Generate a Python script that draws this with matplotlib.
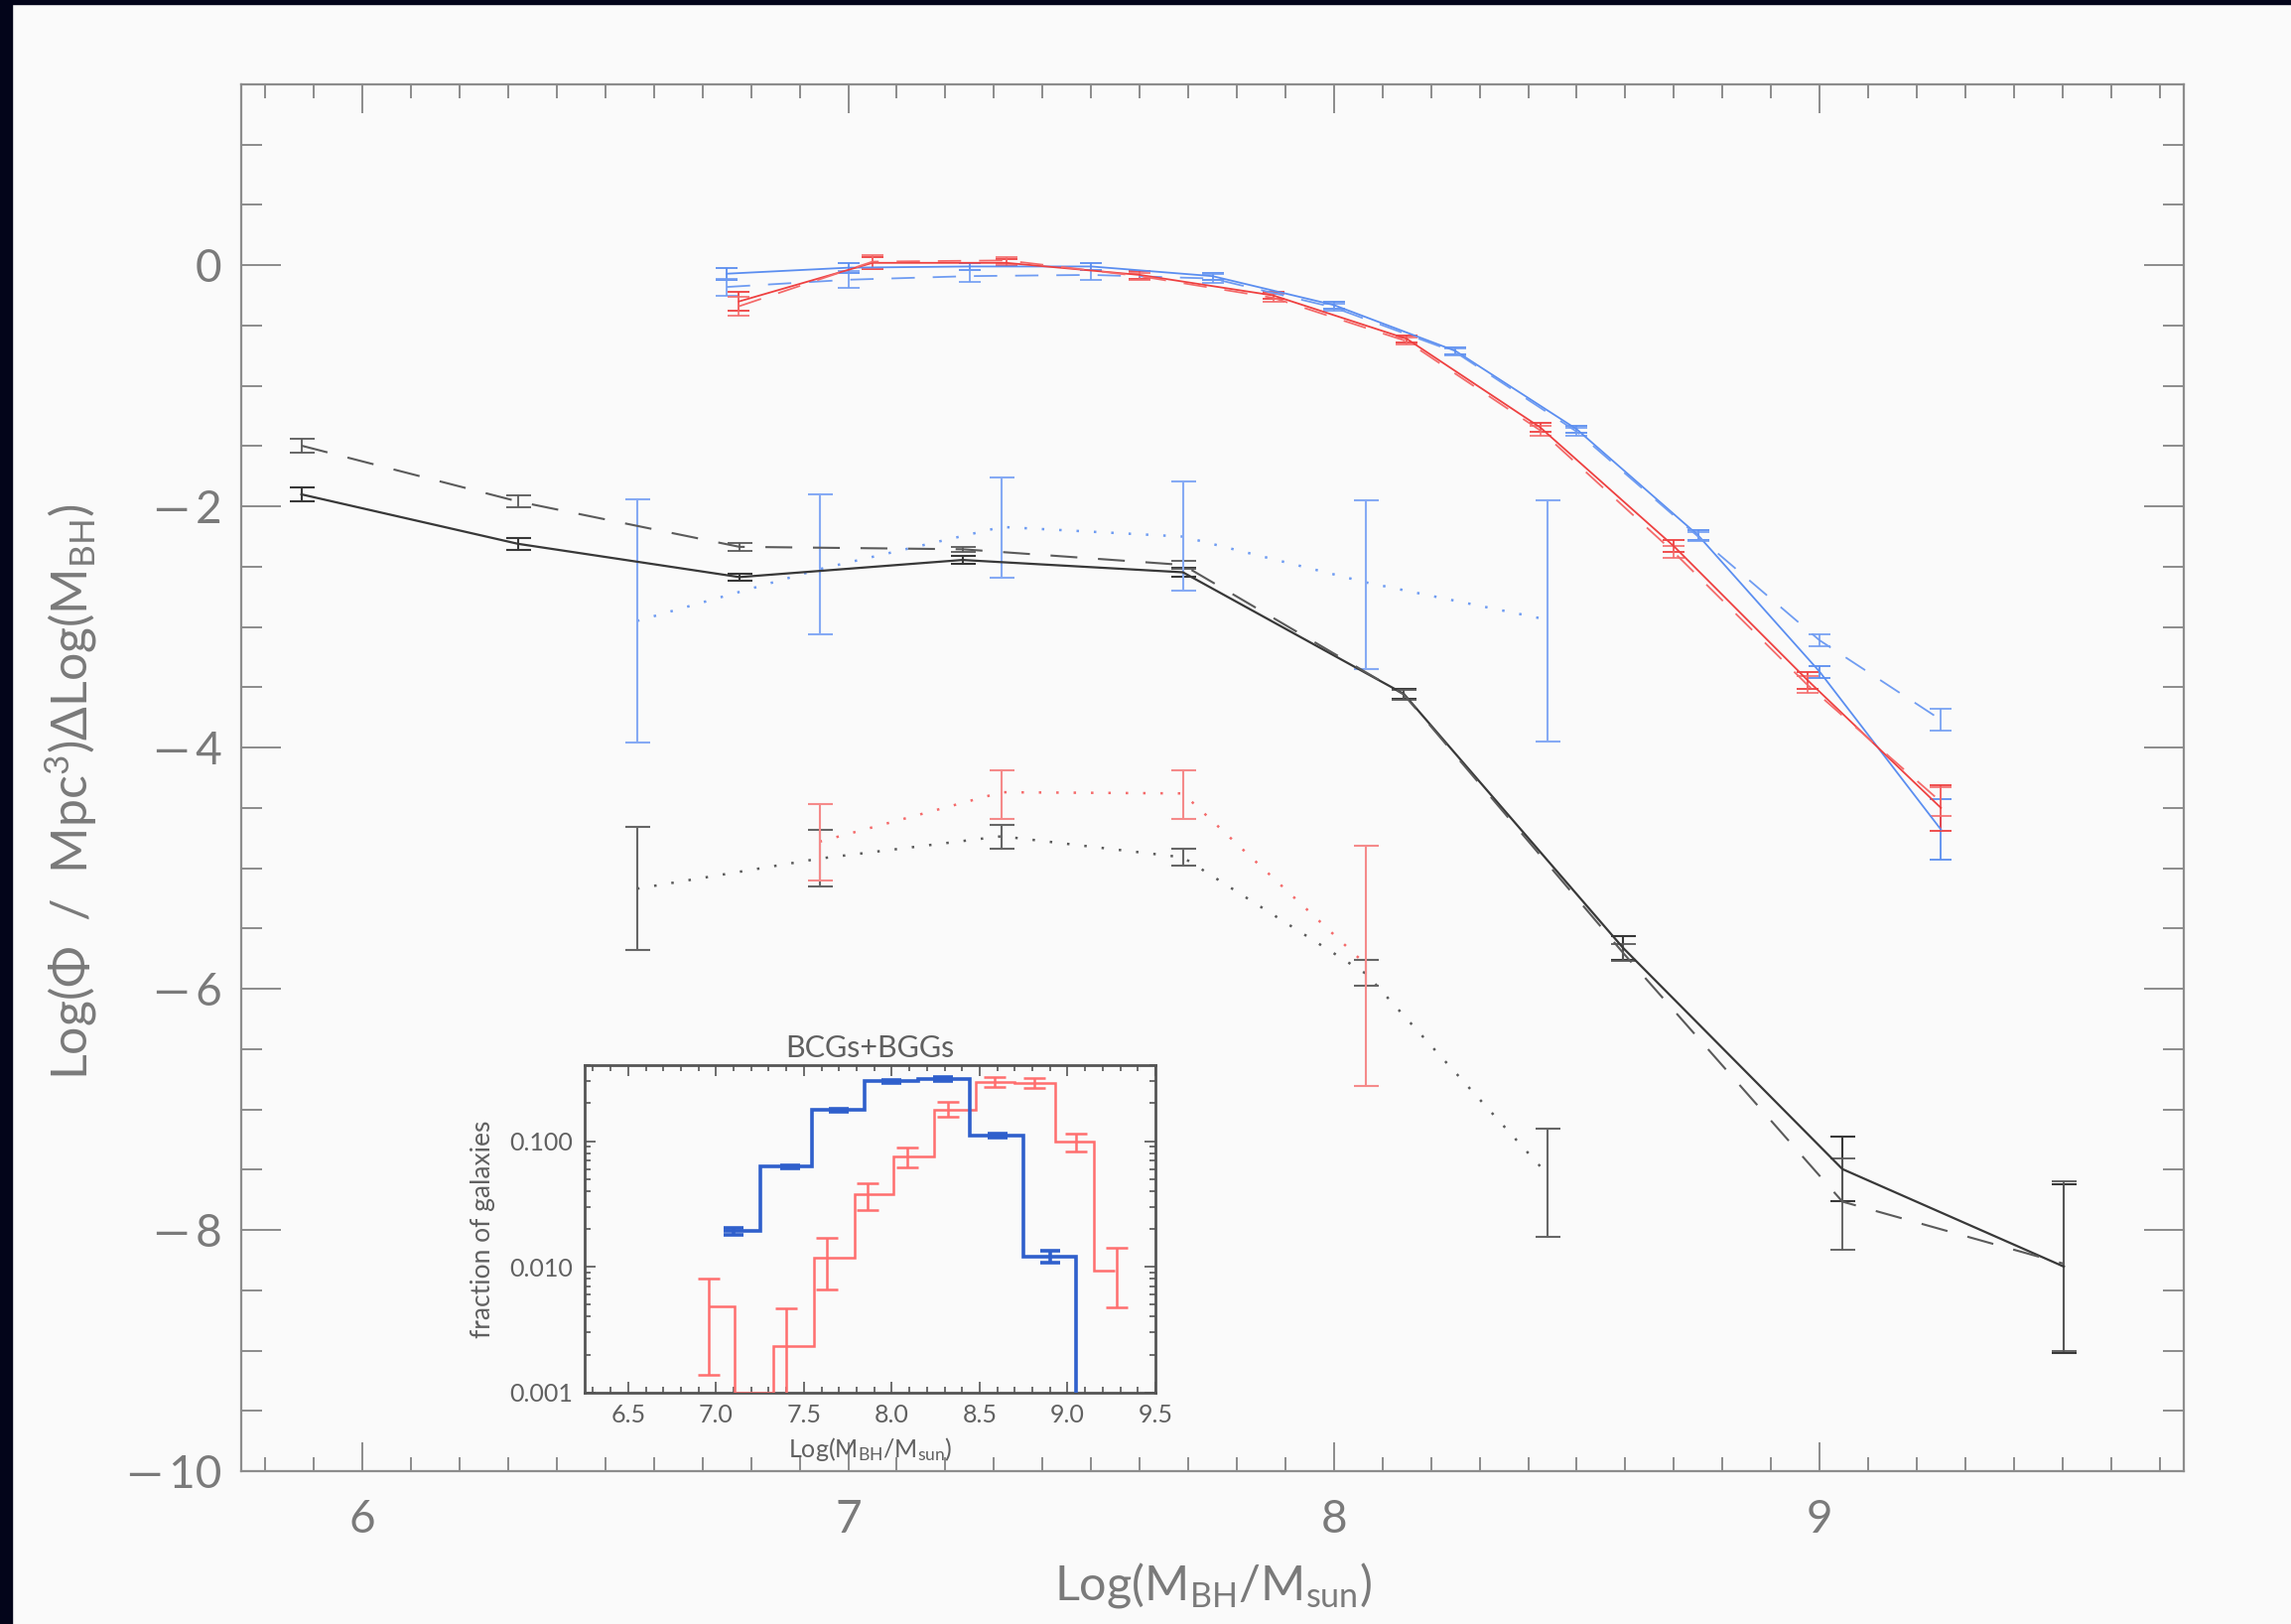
import matplotlib
matplotlib.use("Agg")
import matplotlib.pyplot as plt
import numpy as np
from matplotlib.ticker import MultipleLocator, FuncFormatter, FixedLocator, LogLocator, NullFormatter
from matplotlib.patches import Rectangle

plt.rcParams['font.family'] = ['Lato', 'DejaVu Sans']
plt.rcParams['mathtext.default'] = 'regular'

# ---------------- main panel data ----------------
x_all = [5.874, 6.320, 6.776, 7.235, 7.689, 8.144, 8.595, 9.047, 9.503]
y_all_solid = [-1.90, -2.31, -2.586, -2.444, -2.546, -3.555, -5.659, -7.495, -8.304]
lo_all_solid = [0.06, 0.05, 0.03, 0.03, 0.04, 0.04, 0.10, 0.265, 0.72]
hi_all_solid = [0.06, 0.05, 0.03, 0.03, 0.04, 0.04, 0.10, 0.27, 0.68]
y_all_dash = [-1.496, -1.959, -2.335, -2.355, -2.485, -3.56, -5.70, -7.765, -8.28]
lo_all_dash = [0.06, 0.05, 0.03, 0.02, 0.03, 0.04, 0.07, 0.40, 0.72]
hi_all_dash = [0.06, 0.05, 0.03, 0.02, 0.03, 0.04, 0.07, 0.36, 0.68]

x_sub = [6.565, 6.941, 7.316, 7.689, 8.066, 8.440]
y_blk_dot = [-5.17, -4.92, -4.735, -4.91, -5.875, -7.54]
low_blk_dot = [-5.68, -5.15, -4.84, -4.98, -5.978, -8.057]
high_blk_dot = [-4.66, -4.68, -4.64, -4.84, -5.762, -7.157]

y_blu_dot = [-2.95, -2.52, -2.17, -2.25, -2.63, -2.94]
low_blu_dot = [-3.96, -3.06, -2.59, -2.70, -3.35, -3.95]
high_blu_dot = [-1.94, -1.90, -1.76, -1.79, -1.95, -1.95]

x_red_dot = [6.941, 7.316, 7.689, 8.066]
y_red_dot = [-4.78, -4.37, -4.38, -5.80]
low_red_dot = [-5.10, -4.59, -4.59, -6.81]
high_red_dot = [-4.465, -4.19, -4.19, -4.81]

x_blue = [6.75, 7.00, 7.25, 7.50, 7.75, 8.00, 8.25, 8.50, 8.75, 9.00, 9.25]
y_blue_solid = [-0.07, -0.02, -0.01, -0.01, -0.09, -0.33, -0.71, -1.36, -2.24, -3.37, -4.68]
e_blue_solid = [0.05, 0.04, 0.03, 0.03, 0.03, 0.03, 0.03, 0.03, 0.04, 0.05, 0.25]
y_blue_dash = [-0.18, -0.12, -0.09, -0.08, -0.11, -0.35, -0.72, -1.38, -2.25, -3.11, -3.77]
e_blue_dash = [0.07, 0.07, 0.05, 0.04, 0.04, 0.03, 0.03, 0.03, 0.04, 0.05, 0.09]

x_red = [6.775, 7.050, 7.325, 7.600, 7.875, 8.150, 8.425, 8.700, 8.975, 9.250]
y_red_solid = [-0.30, 0.02, 0.02, -0.08, -0.25, -0.61, -1.345, -2.33, -3.44, -4.50]
e_red_solid = [0.08, 0.05, 0.03, 0.03, 0.03, 0.03, 0.04, 0.05, 0.07, 0.19]
y_red_dash = [-0.34, 0.03, 0.04, -0.09, -0.27, -0.63, -1.37, -2.38, -3.48, -4.45]
e_red_dash = [0.08, 0.05, 0.03, 0.03, 0.03, 0.03, 0.04, 0.05, 0.07, 0.12]

# ---------------- inset data ----------------
blue_edges = [7.044, 7.251, 7.544, 7.843, 8.149, 8.441, 8.747, 9.047, 9.35]
blue_frac = [0.0192, 0.0627, 0.176, 0.298, 0.312, 0.111, 0.012, 1e-5]
blue_cx = [7.10, 7.42, 7.70, 8.00, 8.29, 8.60, 8.90]
blue_cy = [0.0192, 0.0627, 0.176, 0.298, 0.312, 0.111, 0.012]
blue_rel = [0.07, 0.03, 0.03, 0.03, 0.03, 0.04, 0.11]

red_edges = [6.96, 7.107, 7.327, 7.557, 7.787, 8.01, 8.24, 8.48, 8.70, 8.93, 9.15, 9.27]
red_frac = [0.0048, 0.001, 0.00234, 0.0119, 0.0375, 0.0752, 0.178, 0.296, 0.290, 0.0987, 0.0094]
red_cx = [6.96, 7.40, 7.63, 7.86, 8.09, 8.32, 8.585, 8.81, 9.046, 9.28]
red_cy = [0.0048, 0.00234, 0.0119, 0.0375, 0.0752, 0.178, 0.296, 0.290, 0.0987, 0.0094]
red_lo = [0.00138, 0.0005, 0.00656, 0.0282, 0.0616, 0.157, 0.27, 0.265, 0.0823, 0.00473]
red_hi = [0.0080, 0.0047, 0.0171, 0.0463, 0.0886, 0.205, 0.325, 0.318, 0.115, 0.01405]

# ---------------- styles ----------------
BG = '#fafafa'
AXC = '#8c8c8c'
TXT = '#7a7a7a'
BLK = '#383838'
BLK2 = '#5a5a5a'
BLU = '#5b8ef0'
BLU2 = '#6f9cf2'
RED = '#ee4040'
RED2 = '#f46a6a'
DASH = (0, (13, 10))
DOT = (0, (1.0, 6.0))

fig = plt.figure(figsize=(23.08, 16.36), dpi=100, facecolor=BG)
ax = fig.add_axes([243/2308, 1-1482/1636, (2200-243)/2308, (1482-85)/1636])
ax.set_facecolor(BG)

def eb(x, y, lo, hi, color, lw=1.3, cs=9, alpha=1.0, z=3):
    ax.errorbar(x, y, yerr=[lo, hi], fmt='none', ecolor=color, elinewidth=lw,
                capsize=cs, capthick=lw, alpha=alpha, zorder=z)

# black all
ax.plot(x_all, y_all_solid, color=BLK, lw=1.6, zorder=4)
eb(x_all, y_all_solid, lo_all_solid, hi_all_solid, BLK, lw=1.5)
ax.plot(x_all, y_all_dash, color=BLK2, lw=1.5, ls=DASH, zorder=4)
eb(x_all, y_all_dash, lo_all_dash, hi_all_dash, BLK2, lw=1.3)

# dotted subsamples
yb = np.array(y_blk_dot)
ax.plot(x_sub, yb, color=BLK2, lw=1.8, ls=DOT, zorder=3)
eb(x_sub, yb, yb-np.array(low_blk_dot), np.array(high_blk_dot)-yb, '#666666', lw=1.5)

yu = np.array(y_blu_dot)
ax.plot(x_sub, yu, color=BLU2, lw=1.8, ls=DOT, zorder=3)
eb(x_sub, yu, yu-np.array(low_blu_dot), np.array(high_blu_dot)-yu, '#86aaf4', lw=1.5)

yr = np.array(y_red_dot)
ax.plot(x_red_dot, yr, color=RED2, lw=1.8, ls=DOT, zorder=3)
eb(x_red_dot, yr, yr-np.array(low_red_dot), np.array(high_red_dot)-yr, '#f58a8a', lw=1.5)

# upper curves
ax.plot(x_blue, y_blue_solid, color=BLU, lw=1.3, zorder=4)
eb(x_blue, y_blue_solid, e_blue_solid, e_blue_solid, BLU, lw=1.3, cs=8)
ax.plot(x_blue, y_blue_dash, color=BLU2, lw=1.3, ls=DASH, zorder=4)
eb(x_blue, y_blue_dash, e_blue_dash, e_blue_dash, BLU2, lw=1.2, cs=8)
ax.plot(x_red, y_red_solid, color=RED, lw=1.3, zorder=5)
eb(x_red, y_red_solid, e_red_solid, e_red_solid, RED, lw=1.3, cs=8)
ax.plot(x_red, y_red_dash, color=RED2, lw=1.3, ls=DASH, zorder=5)
eb(x_red, y_red_dash, e_red_dash, e_red_dash, RED2, lw=1.2, cs=8)

ax.set_xlim(5.75, 9.75)
ax.set_ylim(-10, 1.5)
ax.xaxis.set_major_locator(MultipleLocator(1))
ax.xaxis.set_minor_locator(MultipleLocator(0.1))
ax.yaxis.set_major_locator(MultipleLocator(2))
ax.yaxis.set_minor_locator(MultipleLocator(0.5))
ax.yaxis.set_major_formatter(FuncFormatter(lambda v, p: ('\u2014\u2009%d' % round(-v)) if v < 0 else '%d' % round(v)))
ax.xaxis.set_major_formatter(FuncFormatter(lambda v, p: '%d' % round(v)))
ax.tick_params(which='both', direction='in', top=True, right=True, color=AXC, width=1.4,
               labelcolor=TXT, labelsize=33)
ax.tick_params(axis='x', which='major', length=21, pad=20)
ax.tick_params(axis='x', which='minor', length=10)
ax.tick_params(axis='y', which='major', length=29, pad=14)
ax.tick_params(axis='y', which='minor', length=15)
for s in ax.spines.values():
    s.set_color(AXC)
    s.set_linewidth(1.6)

ax.set_xlabel('Log(M$_{BH}$/M$_{sun}$)', fontsize=35, color=TXT)
ax.xaxis.set_label_coords(0.5, -0.082)
ax.xaxis.label.set_va('center')
ax.set_ylabel('Log(Φ  /  Mpc$^{3}$)ΔLog(M$_{BH}$)', fontsize=36, color=TXT)
ax.yaxis.set_label_coords(-0.0874, 0.49)
ax.yaxis.label.set_va('center')

# ---------------- inset ----------------
ai = fig.add_axes([588.6/2308, 1-1402.7/1636, (1164-588.6)/2308, (1402.7-1073.3)/1636])
ai.set_facecolor(BG)
ai.set_yscale('log')
ai.stairs(red_frac, red_edges, baseline=None, color='#ff6e6e', lw=1.8, zorder=3)
rcy = np.array(red_cy)
ai.errorbar(red_cx, rcy, yerr=[rcy-np.array(red_lo), np.array(red_hi)-rcy], fmt='none',
            ecolor='#ff6e6e', elinewidth=1.8, capsize=8, capthick=1.8, zorder=3)
ai.stairs(blue_frac, blue_edges, baseline=None, color='#2f5fcc', lw=2.6, zorder=4)
bcy = np.array(blue_cy)
brel = np.array(blue_rel)
ai.errorbar(blue_cx, bcy, yerr=[bcy*brel, bcy*brel], fmt='none', ecolor='#2f5fcc',
            elinewidth=2.6, capsize=7, capthick=2.6, zorder=4)
ai.set_xlim(6.25, 9.5)
ai.set_ylim(0.001, 0.4)
ai.xaxis.set_major_locator(MultipleLocator(0.5))
ai.xaxis.set_minor_locator(MultipleLocator(0.1))
ai.xaxis.set_major_formatter(FuncFormatter(lambda v, p: '%.1f' % v))
ai.yaxis.set_major_locator(FixedLocator([0.001, 0.01, 0.1]))
ai.yaxis.set_major_formatter(FuncFormatter(lambda v, p: '%.3f' % v))
ai.yaxis.set_minor_locator(LogLocator(base=10, subs=np.arange(2, 10)))
ai.yaxis.set_minor_formatter(NullFormatter())
ai.tick_params(which='both', direction='in', top=True, right=True, color='#555555',
               width=1.2, labelcolor='#606060', labelsize=18)
ai.tick_params(which='major', length=8, pad=8)
ai.tick_params(which='minor', length=4)
for s in ai.spines.values():
    s.set_color('#555555')
    s.set_linewidth(2.0)
ai.set_title('BCGs+BGGs', fontsize=22, color='#606060', pad=6)
ai.set_xlabel('Log(M$_{BH}$/M$_{sun}$)', fontsize=18, color='#606060')
ai.xaxis.set_label_coords(0.5, -0.174)
ai.xaxis.label.set_va('center')
ai.set_ylabel('fraction of galaxies', fontsize=19, color='#606060')
ai.yaxis.set_label_coords(-0.178, 0.5)
ai.yaxis.label.set_va('center')

# dark screenshot border (top and left)
fig.patches.append(Rectangle((0, 0), 12/2308, 1, transform=fig.transFigure, color='#03051a', zorder=10))
fig.patches.append(Rectangle((0, 1-4/1636), 1, 4/1636, transform=fig.transFigure, color='#03051a', zorder=10))

fig.savefig('out.png', dpi=100, facecolor=BG)
